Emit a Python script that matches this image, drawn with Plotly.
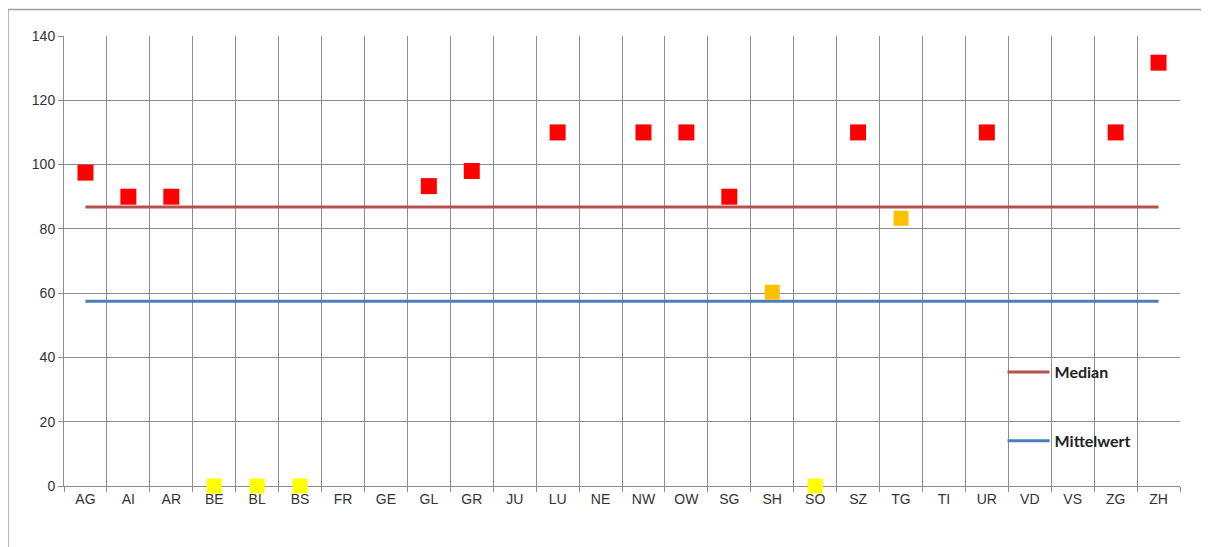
import plotly.graph_objects as go

cantons = ["AG","AI","AR","BE","BL","BS","FR","GE","GL","GR","JU","LU","NE",
           "NW","OW","SG","SH","SO","SZ","TG","TI","UR","VD","VS","ZG","ZH"]

red_cats = ["AG","AI","AR","GL","GR","LU","NW","OW","SG","SZ","UR","ZG","ZH"]
red_vals = [97.5, 90, 90, 93.3, 98, 110, 110, 110, 90, 110, 110, 110, 131.7]

orange_cats = ["SH","TG"]
orange_vals = [60.3, 83.3]

yellow_cats = ["BE","BL","BS","SO"]
yellow_vals = [0, 0, 0, 0]

median_val = 86.8
mean_val = 57.5

fig = go.Figure()

fig.add_trace(go.Scatter(x=cantons, y=[median_val]*len(cantons), mode="lines",
                         line=dict(color="#B8504B", width=3), name="Median",
                         legend="legend"))
fig.add_trace(go.Scatter(x=cantons, y=[mean_val]*len(cantons), mode="lines",
                         line=dict(color="#4A7EBB", width=3), name="Mittelwert",
                         legend="legend2"))
fig.add_trace(go.Scatter(x=red_cats, y=red_vals, mode="markers",
                         marker=dict(symbol="square", size=16, color="#FF0000",
                                     line=dict(width=0)), showlegend=False))
fig.add_trace(go.Scatter(x=orange_cats, y=orange_vals, mode="markers",
                         marker=dict(symbol="square", size=15, color="#FFC000",
                                     line=dict(width=0)), showlegend=False))
fig.add_trace(go.Scatter(x=yellow_cats, y=yellow_vals, mode="markers",
                         marker=dict(symbol="square", size=15, color="#FFFF00",
                                     line=dict(width=0)), showlegend=False, cliponaxis=False))

legend_font = dict(family="Lato, sans-serif", size=16, color="#222222", weight="bold")

fig.update_layout(
    width=1201, height=539,
    margin=dict(l=56, r=29, t=28, b=61),
    paper_bgcolor="white", plot_bgcolor="white",
    font=dict(family="Liberation Sans, Arial, sans-serif", size=14, color="#333333"),
    legend=dict(x=0.841, y=0.291, xanchor="left", yanchor="top", itemwidth=42,
                bgcolor="rgba(0,0,0,0)", font=legend_font),
    legend2=dict(x=0.841, y=0.138, xanchor="left", yanchor="top", itemwidth=42,
                 bgcolor="rgba(0,0,0,0)", font=legend_font),
    xaxis=dict(type="category", categoryorder="array", categoryarray=cantons,
               range=[-0.5, 25.5], tickson="boundaries", layer="below traces",
               showgrid=True, gridcolor="#8C8C8C", gridwidth=1,
               showline=True, linecolor="#8C8C8C", linewidth=1,
               ticks="outside", ticklen=5, tickcolor="#8C8C8C",
               tickfont=dict(size=14, color="#333333")),
    yaxis=dict(range=[0, 140], dtick=20, showgrid=True, gridcolor="#8C8C8C",
               gridwidth=1, showline=True, linecolor="#8C8C8C", linewidth=1,
               ticks="outside", ticklen=5, tickcolor="#8C8C8C", layer="below traces",
               zeroline=False, tickfont=dict(size=14, color="#333333")),
    shapes=[
        dict(type="line", xref="paper", yref="paper", x0=-0.0502, x1=1.05, y0=1.059, y1=1.059,
             line=dict(color="#A0A0A0", width=1.5)),
        dict(type="line", xref="paper", yref="paper", x0=-0.0502, x1=-0.0502, y0=1.059, y1=-0.14,
             line=dict(color="#A0A0A0", width=1.5)),
    ],
)

fig.write_html("out.html")
